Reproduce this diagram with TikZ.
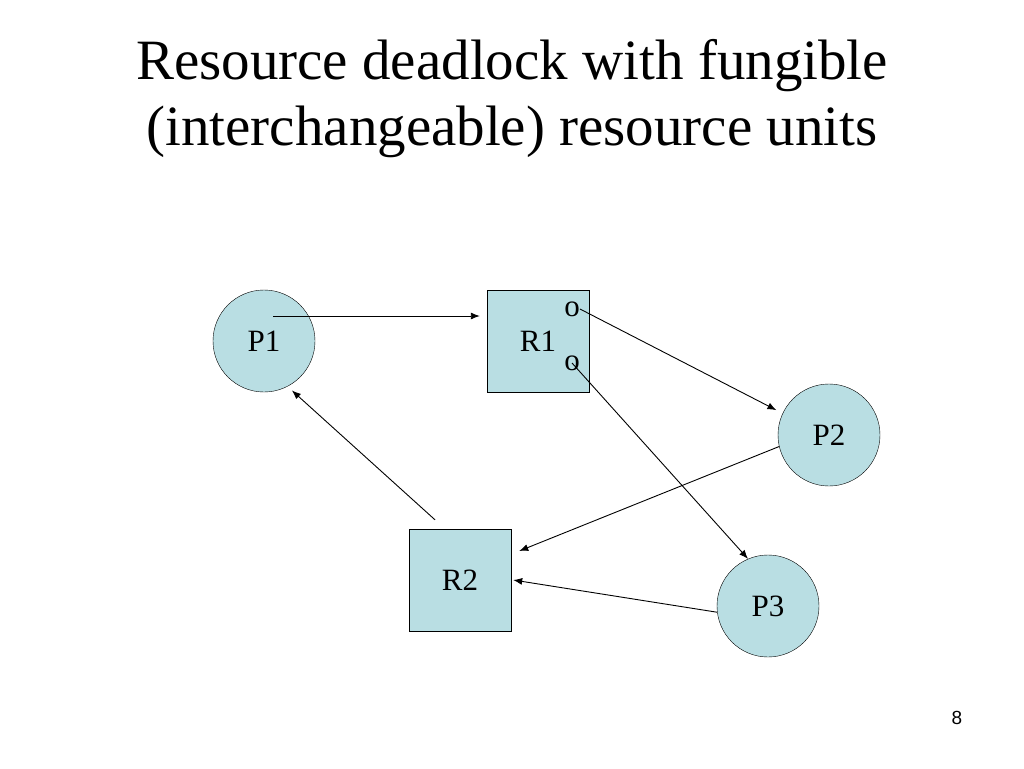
\documentclass[tikz,border=0pt]{standalone}
\usepackage{fontspec}
\setmainfont{Liberation Serif}
\newfontfamily\pagefont{Liberation Sans}
\usepackage{tikz}
\usetikzlibrary{calc}
\usetikzlibrary{arrows.meta}

\definecolor{nodefill}{RGB}{185,222,227}

\begin{document}
\begin{tikzpicture}[x=1pt, y=-1pt,
    proc/.style={circle, draw, fill=nodefill, minimum size=102pt, inner sep=0pt, font=\fontsize{31}{36}\selectfont},
    res/.style={rectangle, draw, fill=nodefill, minimum size=102pt, inner sep=0pt, font=\fontsize{31}{36}\selectfont},
    unit/.style={inner sep=0pt, font=\fontsize{31}{36}\selectfont},
    arr/.style={-{Latex[length=9pt, width=7pt]}, line width=0.9pt}]
          \useasboundingbox (0, 0) rectangle (1024, 768);
          \node[align=center, font=\fontsize{57}{66}\selectfont] (title) at (512, 99) {Resource deadlock with fungible \\ (interchangeable) resource units};
          %
          \node[proc] (P1) at (264, 341) {P1};
          \node[res] (R1) at (538, 341) {R1\hspace{14pt}};
          \node[proc] (P2) at (829, 435) {P2};
          \node[res] (R2) at (460, 580) {R2};
          \node[proc] (P3) at (768, 606) {P3};
          \node[unit] (o1) at (572, 309) {o};
          \node[unit] (o2) at (572, 363) {o};
          %
          \draw[arr] ($(P1.center)+(9, -25)$) -- ($(R1.west)+(-7, -25)$);
          \draw[arr] (o1.east) -- ($(P2.155)!7pt!(o1.east)$);
          \draw[arr] (o2.center) -- (P3.113);
          \draw[arr] (P2.193) -- ($(R2.east)+(8, -29)$);
          \draw[arr] (P3.187) -- ($(R2.east)+(2, 0)$);
          \draw[arr] ($(R2.north)+(-25, -9)$) -- ($(P1.-63)!6pt!(R2.north)$);
          %
          \node[font=\pagefont\fontsize{19}{22}\selectfont] (page) at (957, 718) {8};
\end{tikzpicture}
\end{document}
